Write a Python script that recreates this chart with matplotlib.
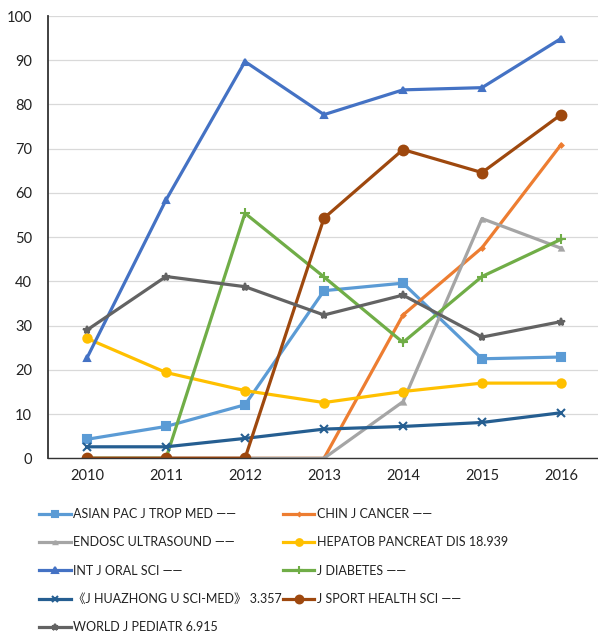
import matplotlib
matplotlib.use("Agg")
import matplotlib.pyplot as plt
import numpy as np

plt.rcParams['font.family'] = ['Lato', 'Noto Sans CJK SC', 'DejaVu Sans']

years = ["2010", "2011", "2012", "2013", "2014", "2015", "2016"]

asian_pac = [4.3, 7.2, 12.1, 37.9, 39.6, 22.5, 22.9]
chin_cancer = [0, 0, 0, 0, 32.4, 47.6, 70.9]
endosc = [0, 0, 0, 0, 12.8, 54.2, 47.5]
hepatob = [27.1, 19.4, 15.3, 12.6, 15.1, 17.0, 17.0]
int_oral = [22.7, 58.4, 89.7, 77.7, 83.3, 83.8, 94.9]
diabetes = [0, 0, 55.4, 41.0, 26.2, 41.1, 49.5]
huazhong = [2.6, 2.6, 4.5, 6.6, 7.2, 8.1, 10.3]
sport = [0, 0, 0, 54.3, 69.8, 64.6, 77.7]
pediatr = [29.0, 41.1, 38.8, 32.4, 36.9, 27.4, 30.9]

labels = [
    "ASIAN PAC J TROP MED ——",
    "CHIN J CANCER ——",
    "ENDOSC ULTRASOUND ——",
    "HEPATOB PANCREAT DIS 18.939",
    "INT J ORAL SCI ——",
    "J DIABETES ——",
    "《J HUAZHONG U SCI-MED》 3.357",
    "J SPORT HEALTH SCI ——",
    "WORLD J PEDIATR 6.915",
]
series = [asian_pac, chin_cancer, endosc, hepatob, int_oral, diabetes, huazhong, sport, pediatr]
colors = ["#5B9BD5", "#ED7D31", "#A5A5A5", "#FFC000", "#4472C4",
          "#70AD47", "#255E91", "#9E480E", "#636363"]
markers = ["s", "D", "^", "o", "^", "+", "x", "o", "*"]
msizes = [6, 2, 3, 6, 5, 7, 6, 7, 6]

fig = plt.figure(figsize=(5.98, 6.42), dpi=100)
ax = fig.add_axes([47.5 / 598, 1 - 458.3 / 642, 553 / 598, 442.3 / 642])

x = np.arange(len(years))
handles = []
for s, lab, c, m, ms in zip(series, labels, colors, markers, msizes):
    h, = ax.plot(x, s, color=c, lw=2.3, marker=m, ms=ms, mew=1.5,
                 mfc=c, mec=c, label=lab, solid_joinstyle='round')
    handles.append(h)

ax.set_xlim(-0.5, 6.5)
ax.set_ylim(0, 100)
ax.set_yticks(np.arange(0, 101, 10))
ax.set_xticks(x)
ax.set_xticklabels(years)
ax.tick_params(length=0, labelsize=10.5, colors="#222222")
ax.tick_params(axis='y', pad=11)
ax.tick_params(axis='x', pad=8)
ax.grid(axis='y', color="#D9D9D9", lw=0.9)
ax.set_axisbelow(True)
for sp in ["top", "right"]:
    ax.spines[sp].set_visible(False)
ax.spines["left"].set_color("#333333")
ax.spines["left"].set_linewidth(1.3)
ax.spines["bottom"].set_color("#333333")
ax.spines["bottom"].set_linewidth(1.0)

order = [0, 2, 4, 6, 8, 1, 3, 5, 7]
leg = fig.legend([handles[i] for i in order], [labels[i] for i in order],
                 ncol=2, loc="upper left", bbox_to_anchor=(28 / 598, 1 - 497 / 642),
                 frameon=False, fontsize=9.0,
                 handlelength=2.5, handletextpad=0.2,
                 columnspacing=0.1, labelspacing=1.3, markerscale=0.8)
for t in leg.get_texts():
    t.set_color("#222222")

fig.savefig("out.png", dpi=100)
